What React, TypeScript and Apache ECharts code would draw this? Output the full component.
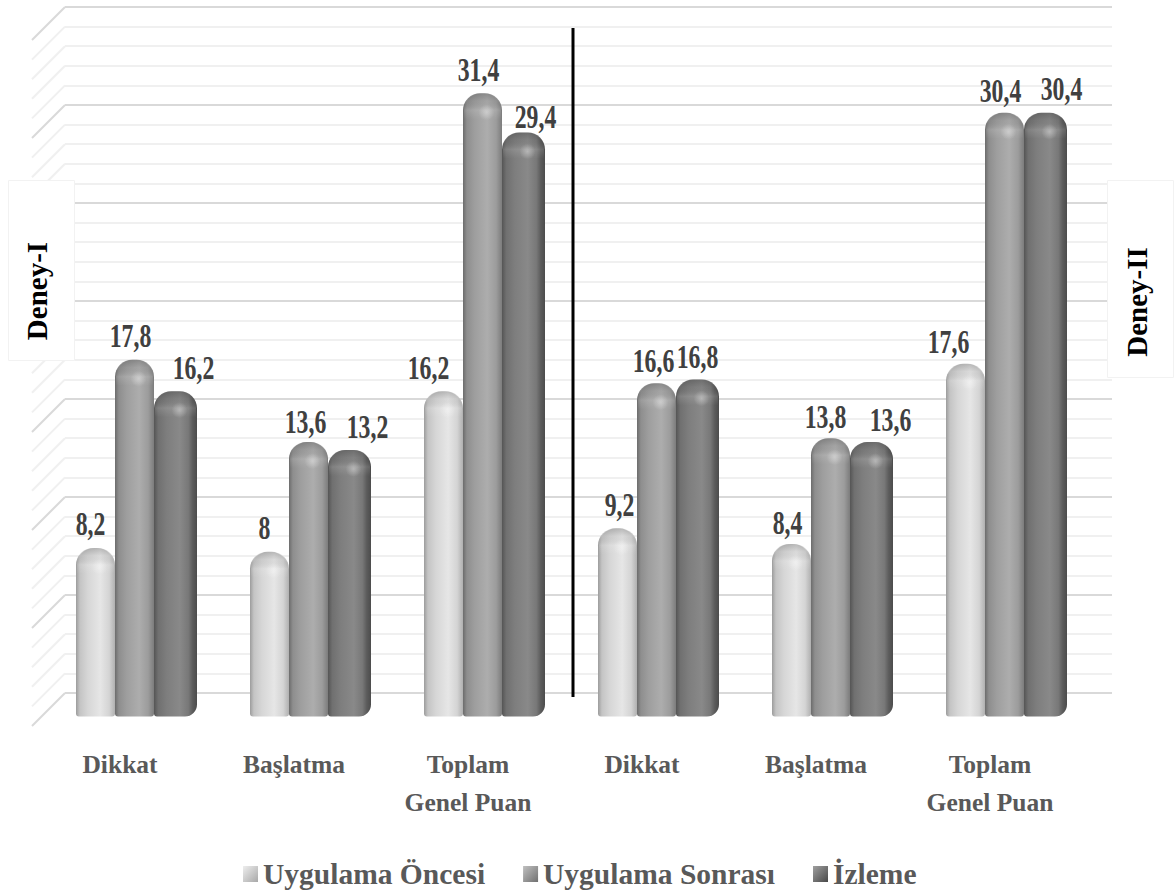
import React, { useEffect, useRef } from "react";
import * as echarts from "echarts";

const categories = ["Dikkat", "Başlatma", "Toplam\nGenel Puan", "Dikkat", "Başlatma", "Toplam\nGenel Puan"];
const seriesNames = ["Uygulama Öncesi", "Uygulama Sonrası", "İzleme"];
const oncesi = [8.2, 8, 16.2, 9.2, 8.4, 17.6];
const sonrasi = [17.8, 13.6, 31.4, 16.6, 13.8, 30.4];
const izleme = [16.2, 13.2, 29.4, 16.8, 13.6, 30.4];
const wallTicks = [0, 1, 2, 3, 4, 5, 6, 7, 8, 9, 10, 11, 12, 13, 14, 15, 16, 17, 18, 19, 20, 21, 22, 23, 24, 25, 26, 27, 28, 29, 30, 31, 32, 33, 34, 35];

// label nudges (px) relative to the bar's centre, per series and category
const labelDx = [
  [-5, -5, -15, 2, -4, -17],
  [-4, -3, -4, -3, -5, -4],
  [18, 18, 12, 0, 19, 16],
];
const labelDy = [
  [0, 0, 0, 0, 2, 2],
  [0, 3, 0, 1, 2, 2],
  [0, 1, 8, 1, 1, 0],
];

const SERIF = "'Liberation Serif', 'Times New Roman', serif";
const DEPTH = 16.5;
const BAR_W = [39, 39, 43];
const BAR_X = [-60.5, -21.5, 17.5];

const hGrad = (stops: [number, string][]) => ({
  type: "linear", x: 0, y: 0, x2: 1, y2: 0,
  colorStops: stops.map(([offset, color]) => ({ offset, color })),
});
const barFills = [
  hGrad([[0, "#9c9c9c"], [0.1, "#c4c4c4"], [0.3, "#d6d6d6"], [0.62, "#e6e6e6"], [0.85, "#d4d4d4"], [1, "#b0b0b0"]]),
  hGrad([[0, "#6c6c6c"], [0.1, "#8e8e8e"], [0.3, "#9e9e9e"], [0.62, "#adadad"], [0.85, "#9c9c9c"], [1, "#7c7c7c"]]),
  hGrad([[0, "#555555"], [0.1, "#707070"], [0.3, "#7e7e7e"], [0.6, "#898989"], [0.8, "#787878"], [0.9, "#5c5c5c"], [1, "#4c4c4c"]]),
];
const legendFills = [
  { type: "linear", x: 0, y: 0, x2: 1, y2: 1, colorStops: [{ offset: 0, color: "#eeeeee" }, { offset: 1, color: "#a8a8a8" }] },
  { type: "linear", x: 0, y: 0, x2: 1, y2: 1, colorStops: [{ offset: 0, color: "#c0c0c0" }, { offset: 1, color: "#707070" }] },
  { type: "linear", x: 0, y: 0, x2: 1, y2: 1, colorStops: [{ offset: 0, color: "#a0a0a0" }, { offset: 1, color: "#484848" }] },
];

function renderBar(seriesIndex: number) {
  return (params: any, api: any) => {
    const cat = api.value(0);
    const val = api.value(1);
    const w = BAR_W[seriesIndex];
    const top = api.coord([cat, val]);
    const base = api.coord([cat, -0.4]);
    const x = top[0] + DEPTH + BAR_X[seriesIndex];
    const y = top[1];
    const h = base[1] - y;
    const r = 17;
    const bottomR = seriesIndex === 2 ? 12 : 3;
    const cx = x + w / 2;
    return {
      type: "group",
      children: [
        {
          type: "rect",
          shape: { x, y, width: w, height: h, r: [r, r, bottomR, 3] },
          style: { fill: barFills[seriesIndex] },
        },
        {
          type: "rect",
          shape: { x: x + 1, y, width: w - 2, height: 26, r: [r, r, 0, 0] },
          style: {
            fill: {
              type: "linear", x: 0, y: 0, x2: 0, y2: 1,
              colorStops: [
                { offset: 0, color: "rgba(0,0,0,0.2)" },
                { offset: 0.3, color: "rgba(0,0,0,0.05)" },
                { offset: 0.65, color: "rgba(255,255,255,0.12)" },
                { offset: 1, color: "rgba(255,255,255,0)" },
              ],
            },
          },
        },
        {
          type: "circle",
          shape: { cx: cx + 4, cy: y + 19, r: 8 },
          style: {
            fill: {
              type: "radial", x: 0.5, y: 0.5, r: 0.5,
              colorStops: [
                { offset: 0, color: "rgba(255,255,255,0.32)" },
                { offset: 1, color: "rgba(255,255,255,0)" },
              ],
            },
          },
        },
        {
          type: "text",
          x: cx + labelDx[seriesIndex][cat],
          y: y - 24 + labelDy[seriesIndex][cat],
          scaleX: 0.72,
          style: {
            text: String(val).replace(".", ","),
            textAlign: "center",
            textVerticalAlign: "middle",
            fill: "#404040",
            font: `bold 33px ${SERIF}`,
          },
        },
      ],
    };
  };
}

function renderDiagonal(params: any, api: any) {
  const v = api.value(1);
  const p = api.coord([0, v]);
  const major = v % 5 === 0;
  return {
    type: "line",
    shape: { x1: p[0], y1: p[1], x2: p[0] - 33, y2: p[1] + 33 },
    style: { stroke: major ? "#d9d9d9" : "#f0f0f0", lineWidth: 2 },
  };
}

const barSeries = [oncesi, sonrasi, izleme].map((values, i) => ({
  type: "custom",
  name: seriesNames[i],
  coordinateSystem: "cartesian2d",
  xAxisIndex: 1,
  yAxisIndex: 1,
  clip: false,
  z: 5 + i,
  renderItem: renderBar(i),
  encode: { x: 0, y: 1 },
  data: values.map((v, c) => [c, v]),
}));

const option: any = {
  animation: false,
  backgroundColor: "#ffffff",
  grid: [
    { left: 65, top: 7, width: 1047, height: 686 },
    { left: 33, top: 22.7, width: 1044, height: 693.8 },
  ],
  xAxis: [
    { type: "value", gridIndex: 0, min: 0, max: 1, show: false },
    {
      type: "category",
      gridIndex: 1,
      data: categories,
      axisLine: { show: false },
      axisTick: { show: false },
      splitLine: { show: false },
      axisLabel: {
        interval: 0,
        margin: 29,
        color: "#595959",
        fontFamily: SERIF,
        fontWeight: "bold",
        fontSize: 25.5,
        lineHeight: 38,
      },
    },
  ],
  yAxis: [
    {
      type: "value",
      gridIndex: 0,
      min: 0,
      max: 35,
      interval: 5,
      axisLine: { show: false },
      axisTick: { show: false },
      axisLabel: { show: false },
      splitLine: { show: true, lineStyle: { color: "#d9d9d9", width: 2 } },
      minorTick: { show: false, splitNumber: 5 },
      minorSplitLine: { show: true, lineStyle: { color: "#f0f0f0", width: 2 } },
    },
    { type: "value", gridIndex: 1, min: -0.4, max: 35, show: false },
  ],
  legend: {
    left: 238,
    top: 854,
    itemWidth: 15,
    itemHeight: 16,
    itemGap: 38,
    icon: "rect",
    textStyle: { color: "#595959", fontFamily: SERIF, fontWeight: "bold", fontSize: 29.5 },
    data: seriesNames.map((name, i) => ({ name, icon: "rect", itemStyle: { color: legendFills[i] } })),
  },
  series: [
    {
      type: "custom",
      name: "wall",
      coordinateSystem: "cartesian2d",
      xAxisIndex: 0,
      yAxisIndex: 0,
      clip: false,
      z: 1,
      renderItem: renderDiagonal,
      encode: { x: 0, y: 1 },
      data: wallTicks.map((t) => [0, t]),
    },
    ...barSeries,
  ],
  graphic: [
    { type: "line", z: 50, shape: { x1: 573, y1: 28, x2: 573, y2: 697 }, style: { stroke: "#000000", lineWidth: 3 } },
    { type: "rect", z: 50, shape: { x: 8.5, y: 180.5, width: 66, height: 180 }, style: { fill: "#ffffff", stroke: "#f2f2f2", lineWidth: 1 } },
    {
      type: "text", z: 51, x: 37, y: 291, rotation: Math.PI / 2,
      style: { text: "Deney-I", textAlign: "center", textVerticalAlign: "middle", fill: "#000000", font: `bold 29px ${SERIF}` },
    },
    { type: "rect", z: 50, shape: { x: 1107.5, y: 180.5, width: 66, height: 197 }, style: { fill: "#ffffff", stroke: "#f2f2f2", lineWidth: 1 } },
    {
      type: "text", z: 51, x: 1137, y: 302, rotation: Math.PI / 2,
      style: { text: "Deney-II", textAlign: "center", textVerticalAlign: "middle", fill: "#000000", font: `bold 29px ${SERIF}` },
    },
  ],
};

export default function App() {
  const ref = useRef<HTMLDivElement>(null);
  useEffect(() => {
    const chart = echarts.init(ref.current as HTMLDivElement, undefined, { renderer: "svg" });
    chart.setOption(option);
    return () => chart.dispose();
  }, []);
  return <div ref={ref} style={{ position: "absolute", left: 0, top: 0, width: 1175, height: 896 }} />;
}
